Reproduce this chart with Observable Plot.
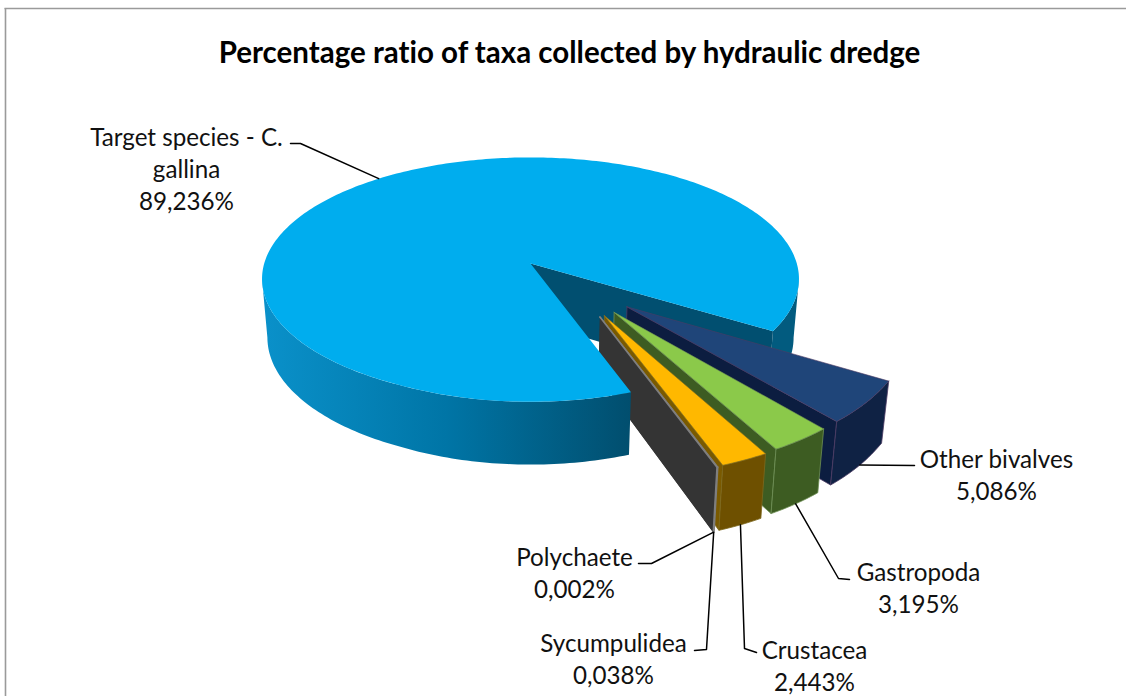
<!DOCTYPE html>
<html>
<head>
<meta charset="utf-8">
<script src="https://cdn.jsdelivr.net/npm/d3@7"></script>
<script src="https://cdn.jsdelivr.net/npm/@observablehq/plot@0.6"></script>
<style>
  html, body { margin: 0; padding: 0; background: #fff; }
  svg { display: block; }
  svg text { font-variant-ligatures: none; }
</style>
</head>
<body>
<script>
// Taxa shares of a hydraulic dredge catch, clockwise from the first slice.
const taxa = ["Target species - C. gallina", "Other bivalves", "Gastropoda", "Crustacea", "Sycumpulidea", "Polychaete"];
const shares = [89.236, 5.086, 3.195, 2.443, 0.038, 0.002];
const chartTitle = "Percentage ratio of taxa collected by hydraulic dredge";

// Face colours per slice.
const topColors = ["#00adee", "#1f4579", "#8bc94a", "#ffb800", "#7f7f7f", "#333333"];
const wallColors = ["#014f70", "#0f2244", "#3d5c22", "#6e5000", "#7f7f7f", "#7f7f7f"];
const cutColors = ["#014f70", "#0c1d40", "#3d5c22", "#7a5a00", "#343434", "#343434"];
const edgeColors = ["none", "#4d3b63", "#6f8f55", "#7d6a20", "#7f7f7f", "#7f7f7f"];

// Perspective model of the disc.
const W = 1126, H = 696;
const cx = 530, cy = 263;
const radius = 266.3, flatten = 0.449, persp = 0.127;
const firstAngle = 70.6, explode = 0.49;
const toRad = Math.PI / 180;

const project = (u, v) => {
  const w = 1 - persp * v;
  return [cx + radius * u / w, cy + radius * flatten * v / w + 13 * Math.max(0, v - 0.9)];
};
// Lower face of the pie: pulled towards the centre, pushed down.
const drop = ([x, y]) => [cx + (x - cx) * 0.98, y + 58 + 0.035 * (y - cy)];

// Angular extent and explosion offset per slice.
let running = firstAngle;
const slices = taxa.map((name, i) => {
  const a0 = running, a1 = running + shares[i] * 3.6;
  running = a1;
  const mid = ((a0 + a1) / 2) % 360;
  const dir = (52 + 0.5 * (mid - 55)) * toRad;
  const off = i === 0 ? [0, 0] : [explode * Math.cos(dir), explode * Math.sin(dir)];
  return {name, i, a0, a1, mid, off};
});

const rimPoint = (s, deg) => project(s.off[0] + Math.cos(deg * toRad), s.off[1] + Math.sin(deg * toRad));
const apexPoint = s => project(s.off[0], s.off[1]);
const arc = (s, a, b) => d3.range(0, 1 + 1e-9, 1 / Math.max(2, Math.ceil(Math.abs(b - a)))).map(t => rimPoint(s, a + (b - a) * t));

// Every face becomes a closed run of points for the one filled line mark.
const faces = [];
let faceId = 0;
const addFace = (pts, fill, stroke = "none", sw = 0) => {
  const id = faceId++;
  [...pts, pts[0]].forEach(([x, y]) => faces.push({x, y, id, fill, stroke, sw}));
};
const wall = (s, a, b) => {
  const top = arc(s, a, b);
  return [...top, ...top.map(drop).reverse()];
};
const cutFace = (s, deg) => {
  const a = apexPoint(s), r = rimPoint(s, deg);
  return [a, r, drop(r), drop(a)];
};

// The rim's silhouette turns at these angles, where the disc is widest on screen.
const widest = Math.asin(persp) / toRad;
const main = slices[0];
const mainEnd = main.a1 - 360;
// Far part of the big slice, behind the exploded ones.
addFace(wall(main, widest, mainEnd), "#025b7f");
addFace(cutFace(main, mainEnd), cutColors[0]);
// Exploded slices, back to front.
slices.slice(1).forEach(s => {
  const a0 = s.a0 - 360, a1 = s.a1 - 360;
  addFace(cutFace(s, a1), cutColors[s.i], s.i >= 4 ? "none" : edgeColors[s.i], 0.8);
  addFace(wall(s, a0, a1), wallColors[s.i], edgeColors[s.i], s.i >= 4 ? 1.5 : 0.8);
  addFace([apexPoint(s), ...arc(s, a0, a1)], topColors[s.i], s.i >= 4 ? "#7f7f7f" : edgeColors[s.i], s.i >= 4 ? 1.5 : 0.6);
});
// Near part of the big slice, then its top.
addFace(wall(main, main.a0, 180 - widest), "url(#wallShade)");
addFace([apexPoint(main), ...arc(main, main.a0, main.a1)], topColors[0]);

// Labels: position of the text block and the elbow of its leader.
const percent = v => v.toFixed(3).replace(".", ",") + "%";
const labelLines = {
  0: "Target species - C.\ngallina\n" + percent(shares[0]),
  1: taxa[1] + "\n" + percent(shares[1]),
  2: taxa[2] + "\n" + percent(shares[2]),
  3: taxa[3] + "\n" + percent(shares[3]),
  4: taxa[4] + "\n" + percent(shares[4]),
  5: taxa[5] + "\n" + percent(shares[5])
};
const labelAt = [[186, 167], [996, 473], [918, 586], [814, 664], [613, 657], [574, 571]];
const elbows = [
  [[300, 143], [290, 143]],
  [[914, 465]],
  [[838, 578], [849, 579]],
  [[744, 648], [756, 652]],
  [[706, 649], [694, 650]],
  [[651, 563], [638, 563]]
];
// Leaders start on the rim of the slice they name.
const leaderStart = i => {
  const s = slices[i];
  if (i === 0) return rimPoint(s, s.mid);
  const m = (s.a0 + s.a1) / 2 - 360;
  return drop(rimPoint(s, m));
};
const leaders = elbows.flatMap((pts, i) => [leaderStart(i), ...pts].map(([x, y]) => ({x, y, i})));
const labels = labelAt.map(([x, y], i) => ({x, y, text: labelLines[i]}));

const font = "Lato, Carlito, sans-serif";

const shading = () => {
  const ns = "http://www.w3.org/2000/svg";
  const defs = document.createElementNS(ns, "defs");
  const g = document.createElementNS(ns, "linearGradient");
  g.setAttribute("id", "wallShade");
  [["0", "#0a91ca"], ["0.5", "#0075a6"], ["1", "#014e6e"]].forEach(([o, c]) => {
    const st = document.createElementNS(ns, "stop");
    st.setAttribute("offset", o);
    st.setAttribute("stop-color", c);
    g.appendChild(st);
  });
  defs.appendChild(g);
  return defs;
};

const chart = Plot.plot({
  width: W,
  height: H,
  margin: 0,
  style: {background: "#fff", overflow: "hidden"},
  x: {domain: [0, W], range: [0, W], axis: null},
  y: {domain: [0, H], range: [0, H], axis: null},
  color: {type: "identity"},
  marks: [
    shading,
    Plot.ruleY([8], {x1: 4.5, x2: W, stroke: "#9a9a9a", strokeWidth: 1.6}),
    Plot.ruleX([5], {y1: 8, y2: H, stroke: "#9a9a9a", strokeWidth: 1.6}),
    Plot.line(faces, {x: "x", y: "y", z: "id", fill: "fill", stroke: "stroke", strokeWidth: "sw", strokeLinejoin: "round"}),
    Plot.line(leaders, {x: "x", y: "y", z: "i", stroke: "#000", strokeWidth: 1.5}),
    Plot.text(labels, {x: "x", y: "y", text: "text", fontFamily: font, fontSize: 24.2, lineHeight: 1.32, fill: "#111"}),
    Plot.text([chartTitle], {x: () => 569, y: () => 53, text: d => d, fontFamily: font, fontWeight: 700, fontSize: 29.5, fill: "#000"})
  ]
});
document.body.appendChild(chart);
</script>
</body>
</html>
